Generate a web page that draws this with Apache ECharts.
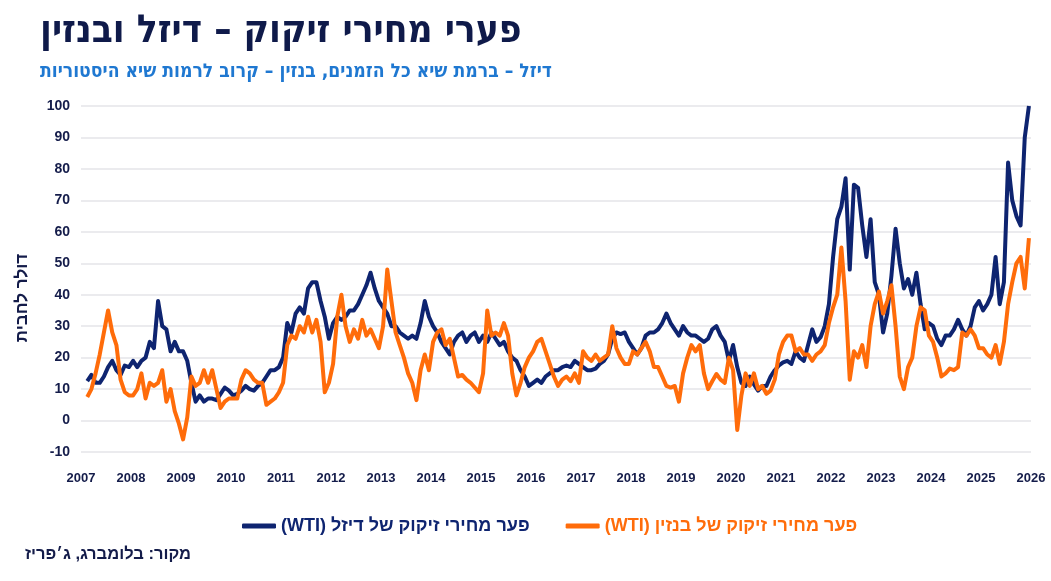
<!DOCTYPE html>
<html lang="he">

<head>
    <meta charset="UTF-8">
    <meta name="viewport" content="width=device-width, initial-scale=1.0">
    <title>פערי מחירי זיקוק</title>
    <script src="https://cdn.jsdelivr.net/npm/echarts@6/dist/echarts.min.js"></script>
    <style>
        html, body { margin: 0; padding: 0; background: #fff; }
        #chart { width: 1051px; height: 581px; }
    </style>
</head>

<body>
    <div id="chart"></div>
    <script>
        // monthly values, Feb 2007 .. Dec 2025
        var startYear = 2007;
        var startMonth = 1; // Feb (0 = Jan)

        var dieselName = 'פער מחירי זיקוק של דיזל (WTI)';
        var gasolineName = 'פער מחירי זיקוק של בנזין (WTI)';

        var diesel = [
            12.5, 14.5, 12, 12, 14, 17, 19, 16, 14.5, 17.5, 17,      // 2007
            19, 17, 19, 20, 25, 23, 38, 30, 29, 22, 25, 22,          // 2008
            22, 19, 12, 6, 8, 6, 7, 7, 6.5, 8.5, 10.5, 9.5,          // 2009
            8, 8.5, 9.5, 11, 10, 9.5, 11, 12, 14, 16, 16, 17,        // 2010
            20, 31, 28, 34, 36, 34, 42, 44, 44, 38, 33, 26,          // 2011
            31, 33, 32, 33, 35, 35, 37, 40, 43, 47, 42, 38,          // 2012
            36, 34, 30, 30, 28, 27, 26, 27, 26, 31, 38, 33,          // 2013
            30, 28, 25, 23, 21, 25, 27, 28, 25, 27, 28, 25,          // 2014
            27, 25, 28, 26, 24, 25, 22, 20, 19, 16, 14, 11,          // 2015
            12, 13, 12, 14, 15, 16, 16, 17, 17.5, 17, 19, 18,        // 2016
            17, 16, 16, 16.5, 18, 19, 21, 26, 28, 27.5, 28, 25,      // 2017
            23, 21, 23, 27, 28, 28, 29, 31, 34, 31, 29, 27,          // 2018
            30, 28, 27, 27, 26, 25, 26, 29, 30, 27, 25, 19,          // 2019
            24, 17, 12, 11, 14, 11.5, 9.5, 11, 11, 14, 16, 17.5,     // 2020
            18.5, 19, 18, 22, 20, 19, 24, 29, 25, 26.5, 30, 37,      // 2021
            52, 64, 68, 77, 48, 75, 74, 62, 52, 64, 44, 40,          // 2022
            28, 34, 46, 61, 50, 42, 45, 40, 47, 37, 29, 31,          // 2023
            30, 26, 24, 27, 27, 29, 32, 29, 27, 30, 36, 38,          // 2024
            35, 37, 40, 52, 37, 44, 82, 70, 65, 62, 90, 100          // 2025
        ];

        var gasoline = [
            7.5, 10, 15, 21, 28, 35, 28, 24, 13, 9, 8,               // 2007
            8, 10, 15, 7, 12, 11, 12, 16, 6, 10, 3, -1,              // 2008
            -6, 1, 14, 11, 12, 16, 12, 16, 10, 4, 6, 7,              // 2009
            7, 7, 13, 16, 15, 13, 12, 12, 5, 6, 7, 9,                // 2010
            12, 24, 27, 26, 30, 28, 33, 28, 32, 25, 9, 12,           // 2011
            18, 33, 40, 30, 25, 29, 26, 32, 27, 29, 26, 23,          // 2012
            30, 48, 38, 28, 24, 20, 15, 12, 6.5, 16, 21, 16,         // 2013
            25, 28, 29, 24, 26, 20, 14, 14.5, 13, 12, 10.5, 9,       // 2014
            15, 35, 27, 28, 27, 31, 27, 15, 8, 12, 17, 20,           // 2015
            22, 25, 26, 22, 18, 14, 11, 13, 14, 12.5, 15, 12,        // 2016
            22, 20, 19, 21, 19, 20, 21, 30, 23, 20, 18, 18,          // 2017
            22, 21, 23, 25, 22, 17, 17, 14, 11, 10.5, 11, 6,         // 2018
            15, 20, 24, 22, 24, 15, 10, 12.5, 14.8, 13, 12, 20,      // 2019
            16, -3, 8, 15, 11, 15, 10, 11, 8.5, 9.5, 13, 21,         // 2020
            25, 27, 27, 22, 23, 21, 21, 19, 21, 22, 24, 31,          // 2021
            36, 40, 55, 38, 13, 22, 20, 24, 17, 30, 37, 41,          // 2022
            34, 38, 43, 30, 14, 10, 17, 20, 30, 36, 35, 27,          // 2023
            25, 20, 14, 15, 16.5, 16, 17, 28, 27, 29, 27, 23,        // 2024
            23, 21, 20, 24, 18, 25, 37, 44, 50, 52, 42, 58           // 2025
        ];

        var yearTicks = { min: 2007, max: 2026, interval: 1 };
        var valueTicks = { min: -10, max: 100, interval: 10 };

        var navy = '#0e2470';
        var orange = '#ff6c0a';
        var textNavy = '#141c4a';

        // x position of each monthly point = mid-month as a decimal year
        function toPairs(values) {
            var out = [];
            for (var i = 0; i < values.length; i++) {
                var m = startMonth + i;
                var x = startYear + Math.floor(m / 12) + ((m % 12) + 0.5) / 12;
                out.push([x, values[i]]);
            }
            return out;
        }

        var font = "'Liberation Sans', 'DejaVu Sans', sans-serif";
        var chart = echarts.init(document.getElementById('chart'));

        var option = {
            animation: false,
            backgroundColor: '#ffffff',
            textStyle: { fontFamily: font },
            grid: {
                left: 81,
                right: 20,
                top: 106,
                bottom: 129
            },
            legend: {
                left: 237,
                top: 512,
                icon: 'roundRect',
                itemWidth: 34,
                itemHeight: 5,
                itemGap: 36,
                textStyle: { fontSize: 18, fontWeight: 'bold', fontFamily: font },
                // wrap in RLE/PDF so the Hebrew label reads right to left
                formatter: function(name) {
                    return '\u202B' + name + '\u202C';
                },
                data: [
                    { name: dieselName, textStyle: { color: navy } },
                    { name: gasolineName, textStyle: { color: orange } }
                ]
            },
            xAxis: {
                type: 'value',
                min: yearTicks.min,
                max: yearTicks.max,
                interval: yearTicks.interval,
                axisLine: { show: false },
                axisTick: { show: false },
                splitLine: { show: false },
                axisLabel: {
                    color: textNavy,
                    fontSize: 13,
                    fontWeight: 'bold',
                    margin: 20,
                    formatter: function(v) { return String(v); }
                }
            },
            yAxis: {
                type: 'value',
                min: valueTicks.min,
                max: valueTicks.max,
                interval: valueTicks.interval,
                axisLine: { show: false },
                axisTick: { show: false },
                axisLabel: {
                    color: textNavy,
                    fontSize: 14,
                    fontWeight: 'bold',
                    margin: 11
                },
                splitLine: {
                    lineStyle: { color: '#e4e4e8', width: 1.5 }
                }
            },
            graphic: [{
                type: 'text',
                left: 40,
                top: 12,
                style: {
                    text: 'פערי מחירי זיקוק – דיזל ובנזין',
                    fill: '#0f1a4a',
                    font: "bold 38.5px 'DejaVu Sans Condensed', 'Liberation Sans', sans-serif"
                }
            }, {
                type: 'text',
                left: 40,
                top: 63,
                style: {
                    text: 'דיזל – ברמת שיא כל הזמנים, בנזין – קרוב לרמות שיא היסטוריות',
                    fill: '#1f78d1',
                    font: "bold 19.2px 'DejaVu Sans Condensed', 'Liberation Sans', sans-serif"
                }
            }, {
                type: 'text',
                x: 22,
                y: 298,
                rotation: Math.PI / 2,
                style: {
                    text: 'דולר לחבית',
                    fill: textNavy,
                    font: "bold 17px 'Liberation Sans', 'DejaVu Sans', sans-serif",
                    textAlign: 'center',
                    textVerticalAlign: 'middle'
                }
            }, {
                type: 'text',
                left: 25,
                top: 546,
                style: {
                    text: 'מקור: בלומברג, ג׳פריז',
                    fill: textNavy,
                    font: "bold 16.5px 'Liberation Sans', 'DejaVu Sans', sans-serif"
                }
            }],
            series: [{
                name: dieselName,
                type: 'line',
                data: toPairs(diesel),
                showSymbol: false,
                color: navy,
                lineStyle: { width: 4, color: navy, join: 'round' }
            }, {
                name: gasolineName,
                type: 'line',
                data: toPairs(gasoline),
                showSymbol: false,
                color: orange,
                lineStyle: { width: 4, color: orange, join: 'round' }
            }]
        };
        chart.setOption(option);
    </script>
</body>

</html>
